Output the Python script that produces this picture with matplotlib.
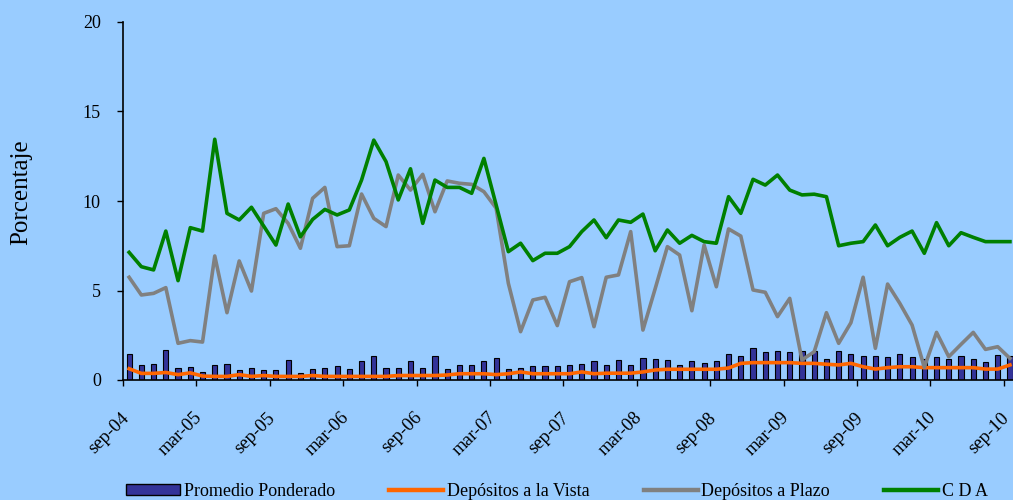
import matplotlib
matplotlib.use("Agg")
import matplotlib.pyplot as plt
from matplotlib.patches import Patch
from matplotlib.lines import Line2D
import numpy as np

# monthly series, sep-04 .. sep-10
promedio = [1.45, 0.82, 0.89, 1.68, 0.67, 0.74, 0.46, 0.82, 0.89, 0.54, 0.67, 0.54, 0.54, 1.12, 0.37,
            0.61, 0.69, 0.76, 0.61, 1.06, 1.34, 0.69, 0.69, 1.06, 0.69, 1.34, 0.61, 0.84, 0.84,
            1.06, 1.25, 0.61, 0.69, 0.76, 0.76, 0.76, 0.84, 0.91, 1.06, 0.84, 1.12, 0.84, 1.25,
            1.19, 1.12, 0.82, 1.06, 0.97, 1.06, 1.47, 1.34, 1.77, 1.55, 1.62, 1.58, 1.62, 1.62,
            1.17, 1.62, 1.47, 1.34, 1.34, 1.27, 1.47, 1.27, 1.17, 1.27, 1.19, 1.34, 1.19, 0.99, 1.40, 1.34]
vista = [0.63, 0.37, 0.37, 0.42, 0.30, 0.40, 0.22, 0.20, 0.20, 0.30, 0.20, 0.25, 0.20, 0.20, 0.20,
         0.25, 0.20, 0.20, 0.20, 0.20, 0.20, 0.20, 0.25, 0.25, 0.25, 0.25, 0.28, 0.35, 0.35,
         0.35, 0.30, 0.35, 0.45, 0.35, 0.35, 0.35, 0.35, 0.45, 0.35, 0.38, 0.38, 0.38, 0.45,
         0.56, 0.60, 0.60, 0.60, 0.60, 0.60, 0.67, 0.93, 0.97, 0.97, 0.97, 0.97, 0.93, 0.93,
         0.88, 0.84, 0.93, 0.74, 0.61, 0.69, 0.74, 0.74, 0.69, 0.69, 0.69, 0.69, 0.69, 0.61, 0.61, 0.84]
plazo = [5.74, 4.75, 4.84, 5.16, 2.05, 2.20, 2.12, 6.93, 3.76, 6.65, 4.97, 9.31, 9.57, 8.75, 7.36,
         10.15, 10.76, 7.45, 7.50, 10.39, 9.03, 8.57, 11.45, 10.61, 11.49, 9.40, 11.12, 10.99, 10.93,
         10.52, 9.60, 5.40, 2.70, 4.47, 4.62, 3.04, 5.49, 5.72, 2.98, 5.74, 5.87, 8.29, 2.79,
         5.10, 7.45, 6.98, 3.87, 7.54, 5.21, 8.44, 8.04, 5.03, 4.90, 3.54, 4.56, 1.12, 1.58,
         3.76, 2.05, 3.20, 5.74, 1.77, 5.36, 4.28, 3.07, 0.71, 2.66, 1.30, 1.99, 2.66, 1.71, 1.86, 1.21]
cda = [7.13, 6.33, 6.15, 8.32, 5.55, 8.51, 8.32, 13.45, 9.31, 8.94, 9.65, 8.60, 7.54, 9.83, 8.00,
       8.97, 9.53, 9.22, 9.50, 11.17, 13.40, 12.20, 10.06, 11.80, 8.75, 11.17, 10.76, 10.76, 10.43,
       12.38, 9.78, 7.17, 7.64, 6.67, 7.08, 7.08, 7.45, 8.29, 8.94, 7.95, 8.94, 8.81, 9.27,
       7.22, 8.38, 7.64, 8.08, 7.73, 7.64, 10.24, 9.31, 11.21, 10.89, 11.45, 10.61, 10.34, 10.38,
       10.24, 7.50, 7.64, 7.73, 8.66, 7.50, 7.97, 8.32, 7.08, 8.79, 7.50, 8.23, 7.97, 7.73, 7.73, 7.73]
tick_labels = ["sep-04", "mar-05", "sep-05", "mar-06", "sep-06", "mar-07", "sep-07",
               "mar-08", "sep-08", "mar-09", "sep-09", "mar-10", "sep-10"]

bg = "#99CCFF"
plt.rcParams["font.family"] = ["Liberation Serif", "DejaVu Serif"]

fig = plt.figure(figsize=(10.13, 5.0), dpi=100, facecolor=bg)
ax = fig.add_axes([123 / 1013, 1 - 380 / 500, 1 - 123 / 1013, (380 - 22) / 500])
ax.set_facecolor(bg)

x = np.arange(len(cda)) + 0.5
ax.bar(x, promedio, width=0.42, color="#333399", edgecolor="black", linewidth=0.8, zorder=2)
ax.plot(x, vista, color="#FF6600", lw=2.6, zorder=3)
ax.plot(x, plazo, color="#808080", lw=2.6, zorder=3)
ax.plot(x, cda, color="#008000", lw=2.6, zorder=4)

ax.set_ylim(0, 20)
ax.set_xlim(0, 890 / 12.25)
ax.set_yticks([0, 5, 10, 15, 20])

# tick marks at half-year boundaries, labels nudged a bit to the right
pos = np.arange(len(tick_labels)) * 6
ax.set_xticks(pos)
ax.set_xticklabels([])
ax.set_xticks(pos + 0.75, minor=True)
ax.set_xticklabels(tick_labels, minor=True, rotation=45, ha="right", va="top", fontsize=13.5)
ax.tick_params(axis="x", which="major", direction="out", length=4, width=1)
ax.tick_params(axis="x", which="minor", length=0, pad=21)
ax.tick_params(axis="y", direction="out", length=4, width=1, pad=12, labelsize=13)
for s in ["top", "right"]:
    ax.spines[s].set_visible(False)
for s in ["left", "bottom"]:
    ax.spines[s].set_color("black")
    ax.spines[s].set_linewidth(1.2)

fig.text(21 / 1013, 1 - 192 / 500, "Porcentaje", rotation=90, ha="center", va="center",
         fontsize=18)

handles = [
    Patch(facecolor="#333399", edgecolor="black", linewidth=1.0),
    Line2D([], [], color="#FF6600", lw=3.2),
    Line2D([], [], color="#808080", lw=3.2),
    Line2D([], [], color="#008000", lw=3.2),
]
names = ["Promedio Ponderado", "Depósitos a la Vista", "Depósitos a Plazo", "C D A"]
fig.legend(handles, names, loc="center left", bbox_to_anchor=(126 / 1013, 1 - 491 / 500),
           ncol=4, frameon=False, fontsize=13, handlelength=3.0, handleheight=0.55,
           handletextpad=0.2, columnspacing=3.0, borderaxespad=0, borderpad=0)

fig.savefig("out.png", dpi=100, facecolor=bg)
